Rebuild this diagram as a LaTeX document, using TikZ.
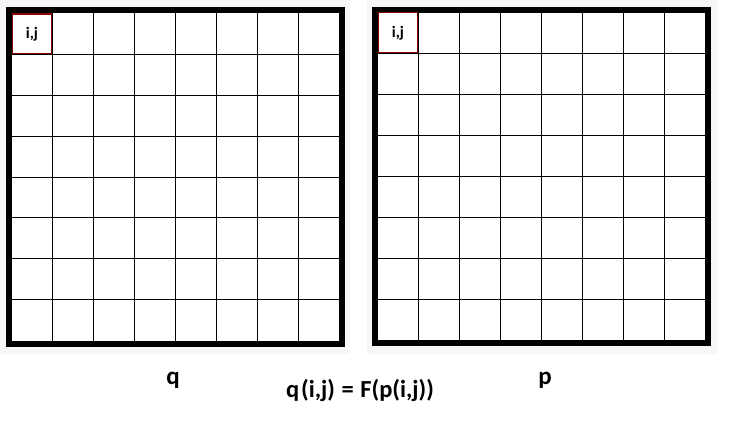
\documentclass[tikz,border=0pt]{standalone}
\usepackage{fontspec}
\setmainfont{Carlito}
\begin{document}
\begin{tikzpicture}[x=1pt,y=-1pt,
  panel/.style={fill=black!3,draw=none},
  frame/.style={draw=black,line width=6pt},
  gridline/.style={draw=black,line width=1.2pt},
  redcell/.style={draw=red!55!black,line width=1.4pt},
  celltxt/.style={font=\fontsize{16}{18}\selectfont\bfseries,inner sep=0pt},
  lbl/.style={font=\fontsize{25}{28}\selectfont\bfseries,inner sep=0pt,anchor=base},
  formula/.style={font=\fontsize{24.5}{28}\selectfont\bfseries,inner sep=0pt,anchor=base}]
\useasboundingbox[fill=white] (0,0) rectangle (747,430);
% faint panels
\path[panel] (0,0) rectangle (350,354);
\path[panel] (367,0) rectangle (717,354);
% left grid
\fill[white] (9,10.5) rectangle (342,343.5);
\foreach \k in {1,...,7}{
  \draw[gridline] ({floor(12+\k*40.875)+0.5},13.5) -- ({floor(12+\k*40.875)+0.5},340.5);
  \draw[gridline] (12,{floor(13.5+\k*40.875)+0.5}) -- (339,{floor(13.5+\k*40.875)+0.5});
}
\draw[frame] (9,10.5) rectangle (342,343.5);
\fill[white] (12.3,14.3) rectangle (51.7,53.3);
\draw[redcell] (12.3,14) rectangle (51.7,53.3);
\node[celltxt] (lij) at (32,34) {i,j};
% right grid
\fill[white] (375,10) rectangle (708,343);
\foreach \k in {1,...,7}{
  \draw[gridline] ({floor(378+\k*40.875)+0.5},13) -- ({floor(378+\k*40.875)+0.5},340);
  \draw[gridline] (378,{floor(13+\k*40.875)+0.5}) -- (705,{floor(13+\k*40.875)+0.5});
}
\draw[frame] (375,10) rectangle (708,343);
\fill[white] (378.3,12.7) rectangle (417.7,52.7);
\draw[redcell] (378.3,12.3) rectangle (417.7,52.7);
\node[celltxt] (rij) at (398,33.5) {i,j};
% labels
\node[lbl] (q) at (173,384) {q};
\node[lbl] (p) at (545,384) {p};
\node[formula] (f) at (360,397) {q\hspace{2pt}(i,j)\hspace{1pt} = \hspace{1pt}F(p(i,j))};
\end{tikzpicture}
\end{document}
